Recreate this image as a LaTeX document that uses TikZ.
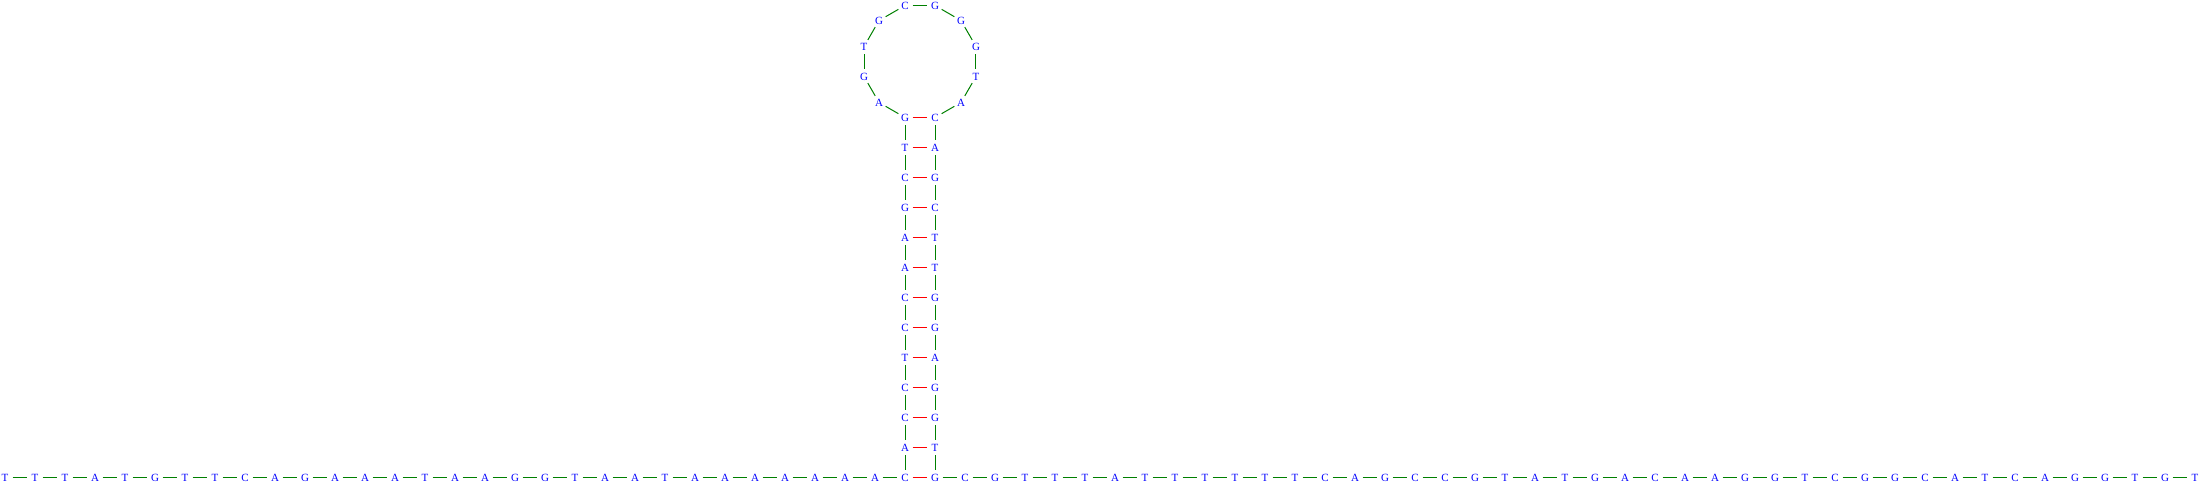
\documentclass[tikz,border=0pt]{standalone}
\usepackage{fontspec}
\setmainfont{Liberation Serif}
\definecolor{bbgreen}{RGB}{0,128,0}
\definecolor{prred}{RGB}{255,0,0}
\definecolor{ntblue}{RGB}{0,0,255}
\begin{document}
\begin{tikzpicture}[x=1pt,y=-1pt,
  base/.style={circle,inner sep=0pt,minimum size=15pt,text height=7.5pt,text depth=0pt,
    text=ntblue,font=\fontsize{11}{11}\selectfont},
  bb/.style={draw=bbgreen,line width=1pt},
  pr/.style={draw=prred,line width=1pt}]
\useasboundingbox (0,0) rectangle (2210,491);
% left tail n1..n30
\foreach \c [count=\i] in {T,T,T,A,T,G,T,T,C,A,G,A,A,A,T,A,A,G,G,T,A,A,T,A,A,A,A,A,A,A}
  \node[base] (n\i) at ({5+30*(\i-1)},477.5) {\c};
% left stem n31..n43 (bottom to top)
\foreach \c [count=\k] in {C,A,C,C,T,C,C,A,A,G,C,T,G}{
  \pgfmathtruncatemacro\i{\k+30}
  \node[base] (n\i) at (905,{477.5-30*(\k-1)}) {\c};}
% loop n44..n53
\foreach \c [count=\k] in {A,G,T,G,C,G,G,G,T,A}{
  \pgfmathtruncatemacro\i{\k+43}
  \pgfmathsetmacro\a{255-30*\k}
  \node[base] (n\i) at ({920+57.96*cos(\a)},{61.5-57.96*sin(\a)}) {\c};}
% right stem n54..n66 (top to bottom)
\foreach \c [count=\k] in {C,A,G,C,T,T,G,G,A,G,G,T,G}{
  \pgfmathtruncatemacro\i{\k+53}
  \node[base] (n\i) at (935,{117.5+30*(\k-1)}) {\c};}
% right tail n67..n108
\foreach \c [count=\k] in {C,G,T,T,T,A,T,T,T,T,T,T,C,A,G,C,C,G,T,A,T,G,A,C,A,A,G,G,T,C,G,G,C,A,T,C,A,G,G,T,G,T}{
  \pgfmathtruncatemacro\i{\k+66}
  \node[base] (n\i) at ({965+30*(\k-1)},477.5) {\c};}
% backbone
\foreach \i in {1,...,107}{
  \pgfmathtruncatemacro\j{\i+1}
  \draw[bb] (n\i) -- (n\j);}
% base pairs
\foreach \i in {31,...,43}{
  \pgfmathtruncatemacro\j{97-\i}
  \draw[pr] (n\i) -- (n\j);}
\end{tikzpicture}
\end{document}
